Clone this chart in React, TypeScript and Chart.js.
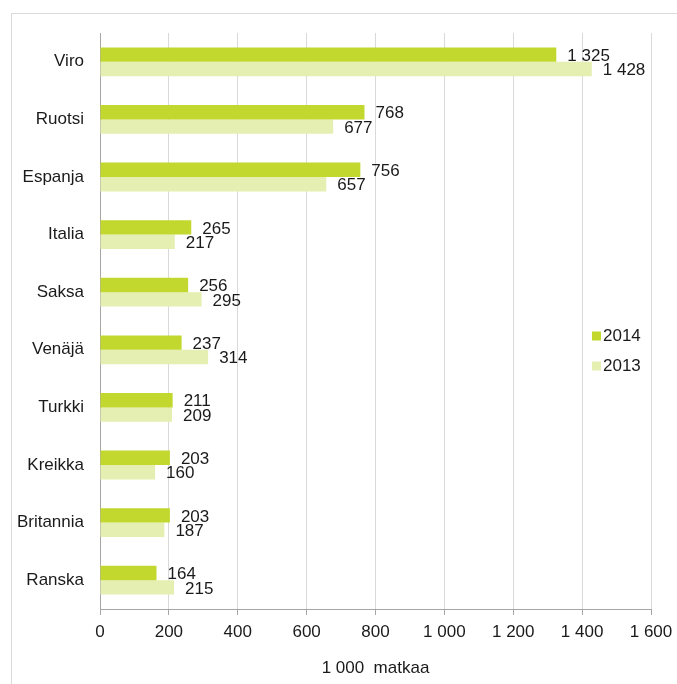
import React, { useEffect, useRef } from 'react';
import { Chart, registerables } from 'chart.js';

Chart.register(...registerables);

const categories = ['Viro', 'Ruotsi', 'Espanja', 'Italia', 'Saksa', 'Venäjä', 'Turkki', 'Kreikka', 'Britannia', 'Ranska'];
const values2014 = [1325, 768, 756, 265, 256, 237, 211, 203, 203, 164];
const values2013 = [1428, 677, 657, 217, 295, 314, 209, 160, 187, 215];
const seriesLabels = ['2014', '2013'];
const xMin = 0;
const xMax = 1600;
const xStep = 200;
const axisTitle = '1 000  matkaa';

const COLOR_2014 = '#c2d82f';
const COLOR_2013 = '#e4efb1';
const FONT_FAMILY = '"Liberation Sans", Arial, sans-serif';
const FONT_SIZE = 17;
const TEXT_COLOR = '#1a1a1a';

const fmt = (v: number | string) => String(v).replace(/\B(?=(\d{3})+(?!\d))/g, ' ');

const dataLabelsPlugin = {
  id: 'barValueLabels',
  afterDatasetsDraw(chart: any) {
    const ctx = chart.ctx;
    ctx.save();
    ctx.font = `${FONT_SIZE}px ${FONT_FAMILY}`;
    ctx.fillStyle = TEXT_COLOR;
    ctx.textAlign = 'left';
    ctx.textBaseline = 'middle';
    chart.data.datasets.forEach((ds: any, di: number) => {
      const meta = chart.getDatasetMeta(di);
      meta.data.forEach((el: any, i: number) => {
        ctx.fillText(fmt(ds.data[i]), el.x + 11, el.y + 1.5);
      });
    });
    ctx.restore();
  },
};

const legendPlugin = {
  id: 'sideLegend',
  afterDraw(chart: any) {
    const ctx = chart.ctx;
    const { right, top } = chart.chartArea;
    ctx.save();
    ctx.font = `${FONT_SIZE}px ${FONT_FAMILY}`;
    ctx.textAlign = 'left';
    ctx.textBaseline = 'middle';
    chart.data.datasets.forEach((ds: any, i: number) => {
      const cy = top + 303 + i * 30;
      const x = right - 59;
      ctx.fillStyle = ds.backgroundColor;
      ctx.fillRect(x, cy - 4.5, 9, 9);
      ctx.fillStyle = TEXT_COLOR;
      ctx.fillText(ds.label, x + 11, cy);
    });
    ctx.restore();
  },
};

export default function App() {
  const canvasRef = useRef<HTMLCanvasElement | null>(null);

  useEffect(() => {
    if (!canvasRef.current) return;
    const chart = new Chart(canvasRef.current, {
      type: 'bar',
      data: {
        labels: categories,
        datasets: [
          { label: seriesLabels[0], data: values2014, backgroundColor: COLOR_2014, borderWidth: 0 },
          { label: seriesLabels[1], data: values2013, backgroundColor: COLOR_2013, borderWidth: 0 },
        ],
      },
      options: {
        indexAxis: 'y',
        responsive: false,
        animation: false,
        devicePixelRatio: 1,
        datasets: { bar: { categoryPercentage: 0.5, barPercentage: 1.0 } },
        layout: { padding: { left: 0, right: 26, top: 33, bottom: 0 } },
        plugins: {
          legend: { display: false },
          tooltip: { enabled: false },
          title: { display: false },
        },
        scales: {
          x: {
            type: 'linear',
            min: xMin,
            max: xMax,
            ticks: {
              stepSize: xStep,
              callback: (v: any) => fmt(v),
              font: { family: FONT_FAMILY, size: FONT_SIZE },
              color: TEXT_COLOR,
              padding: 7,
              maxRotation: 0,
              autoSkip: false,
            },
            grid: { color: '#d9d9d9', tickColor: '#a6a6a6', tickLength: 6, drawTicks: true },
            border: { color: '#a6a6a6', width: 1 },
            title: {
              display: true,
              text: axisTitle,
              font: { family: FONT_FAMILY, size: FONT_SIZE },
              color: TEXT_COLOR,
              padding: { top: 4, bottom: 5 },
            },
            afterFit: (scale: any) => {
              scale.height = 75;
              scale.paddingRight = 0;
              scale.paddingLeft = 0;
            },
          },
          y: {
            ticks: {
              font: { family: FONT_FAMILY, size: FONT_SIZE },
              color: TEXT_COLOR,
              padding: 16,
            },
            grid: { drawOnChartArea: false, drawTicks: false },
            border: { display: true, color: '#a6a6a6', width: 1 },
            afterFit: (scale: any) => {
              scale.width = 100;
            },
          },
        },
      },
      plugins: [dataLabelsPlugin, legendPlugin],
    } as any);
    return () => chart.destroy();
  }, []);

  return (
    <div style={{ position: 'absolute', left: 0, top: 0, width: 677, height: 684, background: '#ffffff', overflow: 'hidden' }}>
      <div
        style={{
          position: 'absolute',
          left: 11,
          top: 13,
          width: 677 - 11,
          height: 684 - 13,
          borderTop: '1px solid #d9d9d9',
          borderLeft: '1px solid #d9d9d9',
          boxSizing: 'border-box',
        }}
      />
      <canvas ref={canvasRef} width={677} height={684} style={{ position: 'absolute', left: 0, top: 0 }} />
    </div>
  );
}
